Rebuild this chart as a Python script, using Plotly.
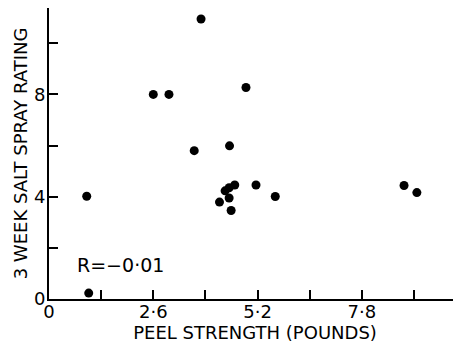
import plotly.graph_objects as go

peel_strength = [3.79, 2.60, 2.99, 3.62, 0.94, 0.99, 4.25, 4.49, 4.39, 4.49, 4.63, 4.54, 4.50, 4.91, 5.16, 5.64, 8.85, 9.17]
salt_rating = [10.95, 8.0, 8.0, 5.80, 4.02, 0.23, 3.79, 3.95, 4.23, 4.35, 4.46, 3.46, 5.99, 8.27, 4.46, 4.01, 4.44, 4.16]

x_tick_vals = [0, 1.3, 2.6, 3.9, 5.2, 6.5, 7.8, 9.1]
x_tick_text = ["0", "", "2·6", "", "5·2", "", "7·8", ""]
y_tick_vals = [0, 2, 4, 6, 8, 10]
y_tick_text = ["0", "", "4", "", "8", ""]
r_label = "R=−0·01"

FONT = "DejaVu Sans"

fig = go.Figure()
fig.add_trace(go.Scatter(
    x=peel_strength, y=salt_rating, mode="markers",
    marker=dict(color="black", size=9),
    cliponaxis=False, showlegend=False,
))

fig.add_annotation(x=1.77, y=1.34, xref="x", yref="y", text=r_label,
                   showarrow=False, font=dict(family=FONT, size=19, color="black"))

axis_common = dict(
    showline=True, linecolor="black", linewidth=2,
    ticks="inside", ticklen=9, tickwidth=2, tickcolor="black",
    showgrid=False, zeroline=False, automargin=False,
    tickfont=dict(family=FONT, size=18, color="black"),
)

fig.update_xaxes(range=[0, 10.27], tickvals=x_tick_vals, ticktext=x_tick_text,
                 ticklabelstandoff=-5,
                 title=dict(text="PEEL STRENGTH (POUNDS)", font=dict(family=FONT, size=18, color="black"), standoff=0),
                 **axis_common)
fig.update_yaxes(range=[0, 11.38], tickvals=y_tick_vals, ticktext=y_tick_text,
                 ticklabelstandoff=-2,
                 title=dict(text="3 WEEK SALT SPRAY RATING", font=dict(family=FONT, size=18, color="black"), standoff=2),
                 **axis_common)

fig.update_layout(
    width=453, height=338,
    margin=dict(l=41, r=0, t=0, b=47),
    plot_bgcolor="white", paper_bgcolor="white",
    font=dict(family=FONT, color="black"),
)

fig.write_html("out.html")
